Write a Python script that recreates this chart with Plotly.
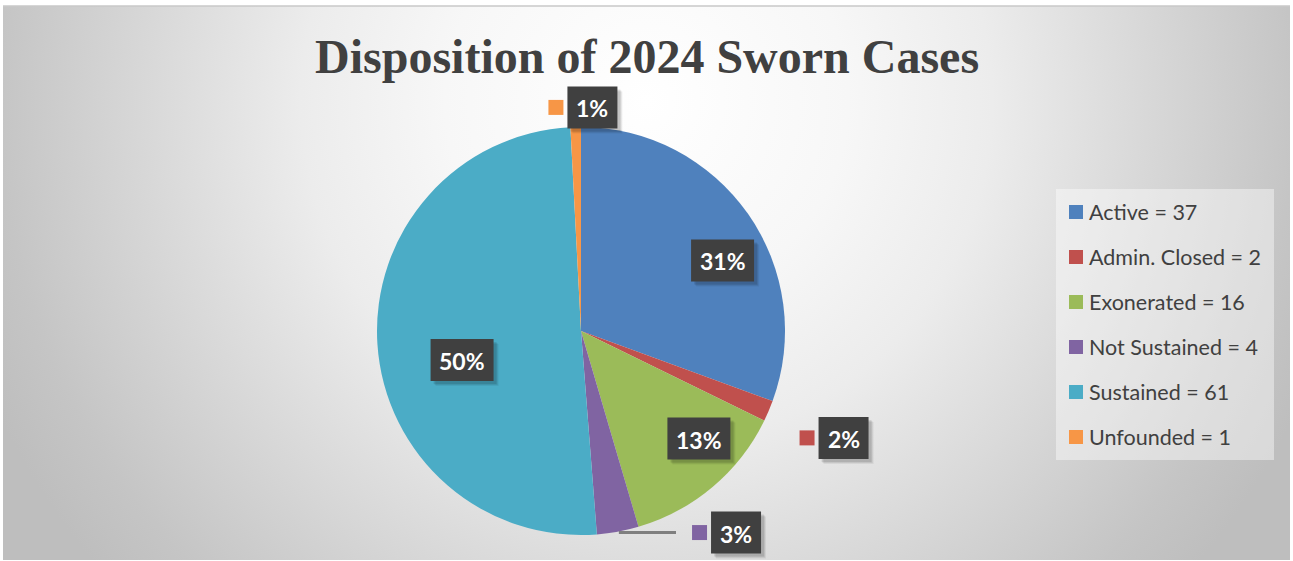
import math
import base64
import plotly.graph_objects as go

# ---------------- data ----------------
categories = ["Active", "Admin. Closed", "Exonerated", "Not Sustained", "Sustained", "Unfounded"]
values = [37, 2, 16, 4, 61, 1]
colors = ["#4F81BD", "#C0504D", "#9BBB59", "#8064A2", "#4BACC6", "#F79646"]
title_text = "Disposition of 2024 Sworn Cases"

# label box centres, relative to pie centre, in units of pie radius (layout only)
label_offsets = [(0.694, -0.346), (1.287, 0.524), (0.578, 0.527),
                 (0.760, 0.988), (-0.583, 0.142), (0.056, -1.096)]
outside_label = [False, True, False, True, False, True]

# ---------------- geometry ----------------
W, H = 1293, 561
CX, CY, R = 581, 331, 204          # pie centre / radius in px
AREA = (3, 6, 1290, 560)           # chart area in px


def px(x):
    return x / W


def py(y):
    return 1 - y / H


total = sum(values)
pcts = [round(v / total * 100) for v in values]

# ---------------- background gradient (svg) ----------------
aw, ah = AREA[2] - AREA[0], AREA[3] - AREA[1]
svg = f'''<svg xmlns="http://www.w3.org/2000/svg" width="{aw}" height="{ah}" viewBox="0 0 {aw} {ah}">
<defs><radialGradient id="g" gradientUnits="userSpaceOnUse" cx="{aw/2}" cy="95" r="720">
<stop offset="0" stop-color="#ffffff"/>
<stop offset="0.28" stop-color="#f7f7f7"/>
<stop offset="0.48" stop-color="#ececec"/>
<stop offset="0.9" stop-color="#c5c5c5"/>
<stop offset="1" stop-color="#bebebe"/>
</radialGradient></defs>
<rect x="0" y="0" width="{aw}" height="{ah}" fill="url(#g)"/>
</svg>'''
svg_uri = "data:image/svg+xml;base64," + base64.b64encode(svg.encode()).decode()

fig = go.Figure()
fig.add_trace(go.Pie(
    labels=categories,
    values=values,
    marker=dict(colors=colors, line=dict(width=0)),
    sort=False,
    direction="clockwise",
    rotation=0,
    textinfo="none",
    hoverinfo="label+value+percent",
    showlegend=False,
    domain=dict(x=[px(CX - R), px(CX + R)], y=[py(CY + R), py(CY - R)]),
))

annotations = []
shapes = []

# chart area border line (top)
shapes.append(dict(type="line", xref="paper", yref="paper",
                   x0=px(AREA[0]), x1=px(AREA[2]), y0=py(AREA[1]), y1=py(AREA[1]),
                   line=dict(color="#c8c8c8", width=1.5), layer="above"))

# title
annotations.append(dict(
    text=f"<b>{title_text}</b>", x=px(647), y=py(57), xref="paper", yref="paper",
    showarrow=False, xanchor="center", yanchor="middle",
    font=dict(family="Liberation Serif", size=48, color="#404040"),
))

# data labels (dark boxes with drop shadow)
BOX_H = 42
for i, (cat, p) in enumerate(zip(categories, pcts)):
    ox, oy = label_offsets[i]
    lx, ly = CX + ox * R, CY + oy * R
    bw = 37 + 13 * len(str(p))
    # soft shadow
    for d, a in ((5, 0.06), (4, 0.08), (3, 0.1)):
        shapes.append(dict(type="rect", xref="paper", yref="paper",
                           x0=px(lx - bw / 2 + d), x1=px(lx + bw / 2 + d),
                           y0=py(ly + BOX_H / 2 + d), y1=py(ly - BOX_H / 2 + d),
                           fillcolor=f"rgba(0,0,0,{a})", line=dict(width=0), layer="above"))
    shapes.append(dict(type="rect", xref="paper", yref="paper",
                       x0=px(lx - bw / 2), x1=px(lx + bw / 2),
                       y0=py(ly + BOX_H / 2), y1=py(ly - BOX_H / 2),
                       fillcolor="#404040", line=dict(width=0), layer="above"))
    annotations.append(dict(
        text=f"<b>{p}%</b>", x=px(lx), y=py(ly + 1), xref="paper", yref="paper", showarrow=False,
        xanchor="center", yanchor="middle",
        font=dict(family="Lato", size=23, color="#ffffff"),
    ))
    if outside_label[i]:
        kx = lx - bw / 2 - 4 - 7.5
        shapes.append(dict(type="rect", xref="paper", yref="paper",
                           x0=px(kx - 7.5), x1=px(kx + 7.5), y0=py(ly + 7.5), y1=py(ly - 7.5),
                           fillcolor=colors[i], line=dict(width=0), layer="above"))

# leader line for the small "Not Sustained" slice
ns = categories.index("Not Sustained")
start = sum(values[:ns]) / total * 2 * math.pi
end = sum(values[:ns + 1]) / total * 2 * math.pi
mid = (start + end) / 2
ex, ey = CX + R * math.sin(mid), CY - R * math.cos(mid)
ly_ns = CY + label_offsets[ns][1] * R
shapes.append(dict(type="line", xref="paper", yref="paper",
                   x0=px(ex + 1), y0=py(ly_ns), x1=px(676), y1=py(ly_ns),
                   line=dict(color="#7f7f7f", width=3), layer="above"))

# custom legend
LEG = (1056, 189, 1274, 460)
shapes.append(dict(type="rect", xref="paper", yref="paper",
                   x0=px(LEG[0]), x1=px(LEG[2]), y0=py(LEG[3]), y1=py(LEG[1]),
                   fillcolor="rgba(255,255,255,0.42)", line=dict(width=0), layer="below"))
for i, (cat, v) in enumerate(zip(categories, values)):
    yc = 212 + i * 45
    shapes.append(dict(type="rect", xref="paper", yref="paper",
                       x0=px(1069), x1=px(1083), y0=py(yc + 7), y1=py(yc - 7),
                       fillcolor=colors[i], line=dict(width=0), layer="above"))
    annotations.append(dict(
        text=f"{cat} = {v}", x=px(1087), y=py(yc), xref="paper", yref="paper",
        showarrow=False, xanchor="left", yanchor="middle",
        font=dict(family="Lato", size=21.5, color="#404040"),
    ))

fig.update_layout(
    width=W, height=H,
    margin=dict(l=0, r=0, t=0, b=0),
    paper_bgcolor="#ffffff",
    plot_bgcolor="rgba(0,0,0,0)",
    showlegend=False,
    images=[dict(source=svg_uri, xref="paper", yref="paper",
                 x=px(AREA[0]), y=py(AREA[1]), sizex=aw / W, sizey=ah / H,
                 xanchor="left", yanchor="top", sizing="stretch", layer="below")],
    shapes=shapes,
    annotations=annotations,
)

fig.write_html("out.html", config={"displayModeBar": False},
               post_script="document.body.style.margin='0';document.body.style.overflow='hidden';")
